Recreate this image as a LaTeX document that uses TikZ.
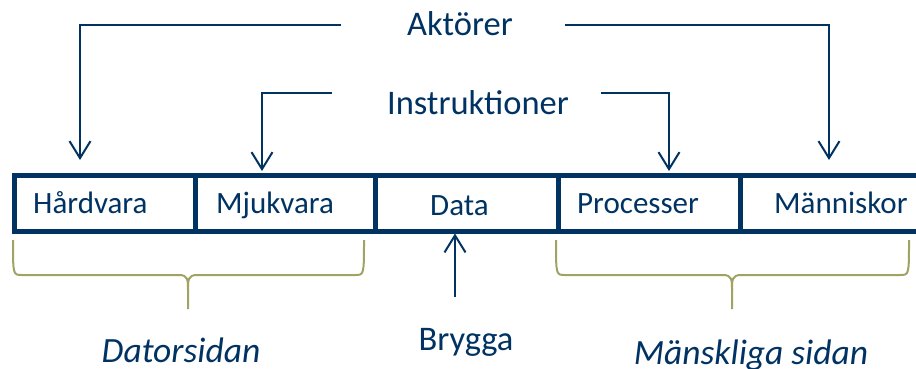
\documentclass[tikz,border=0pt]{standalone}
\usepackage{fontspec}
\setmainfont{Carlito}
\usetikzlibrary{arrows.meta}
\definecolor{dblue}{RGB}{0,50,98}
\definecolor{olive}{RGB}{160,163,100}
\tikzset{
  cell/.style={draw=dblue, line width=4.5pt, minimum height=56pt, inner sep=0pt, anchor=north west},
  boxlbl/.style={text=dblue, inner sep=0pt, anchor=base west, font=\fontsize{31}{36}\selectfont},
  toplbl/.style={text=dblue, inner sep=0pt, anchor=base, font=\fontsize{34.5}{40}\selectfont},
  sidelbl/.style={text=dblue, inner sep=0pt, anchor=base, font=\fontsize{35.5}{40}\selectfont\itshape},
  arr/.style={draw=dblue, line width=2pt, -{Straight Barb[length=17pt,width=21pt,line width=2pt]}},
  brace/.style={draw=olive, line width=2pt}
}
\begin{document}
\begin{tikzpicture}[x=1pt,y=-1pt]
\useasboundingbox (0,0) rectangle (916,368);
\clip (0,0) rectangle (916,368);
% cells
\node[cell, minimum width=181pt] (c1) at (12,173) {};
\node[cell, minimum width=180pt] (c2) at (193,173) {};
\node[cell, minimum width=183pt] (c3) at (373,173) {};
\node[cell, minimum width=182pt] (c4) at (556,173) {};
\node[cell, minimum width=184pt] (c5) at (738,173) {};
% cell labels
\node[boxlbl] (l1) at (33,213) {Hårdvara};
\node[boxlbl] (l2) at (216,213) {Mjukvara};
\node[boxlbl] (l3) at (430,215) {Data};
\node[boxlbl] (l4) at (577,213) {Processer};
\node[boxlbl] (l5) at (774,213) {Människor};
% top labels
\node[toplbl] (akt) at (460,35) {Aktörer};
\node[toplbl] (ins) at (478,114) {Instruktioner};
\node[toplbl] (bry) at (466,350) {Brygga};
\node[sidelbl] (dat) at (181,362) {Datorsidan};
\node[sidelbl] (man) at (751,364) {Mänskliga sidan};
% arrow ends
\coordinate (t1) at (80,160);
\coordinate (t2) at (262,171);
\coordinate (t3) at (669,171);
\coordinate (t4) at (829,160);
\coordinate (b0) at (455,297);
% connectors
\draw[arr] ([xshift=-66pt,yshift=10pt]akt.base west) -| (t1);
\draw[arr] ([xshift=52pt,yshift=10pt]akt.base east) -| (t4);
\draw[arr] ([xshift=-55pt,yshift=21pt]ins.base west) -| (t2);
\draw[arr] ([xshift=32pt,yshift=21pt]ins.base east) -| (t3);
\draw[arr] (b0) -- (c3.south -| b0);
% braces
\draw[brace] (13,240) .. controls (13,275) and (13,275) .. (22,275) -- (179,275)
  .. controls (188,275) and (188,280) .. (188,290) -- (188,309);
\draw[brace] (364,240) .. controls (364,275) and (364,275) .. (355,275) -- (197,275)
  .. controls (188,275) and (188,280) .. (188,290);
\draw[brace] (556,240) .. controls (556,275) and (556,275) .. (565,275) -- (723,275)
  .. controls (732,275) and (732,280) .. (732,290) -- (732,309);
\draw[brace] (909,240) .. controls (909,275) and (909,275) .. (900,275) -- (741,275)
  .. controls (732,275) and (732,280) .. (732,290);
\end{tikzpicture}
\end{document}
